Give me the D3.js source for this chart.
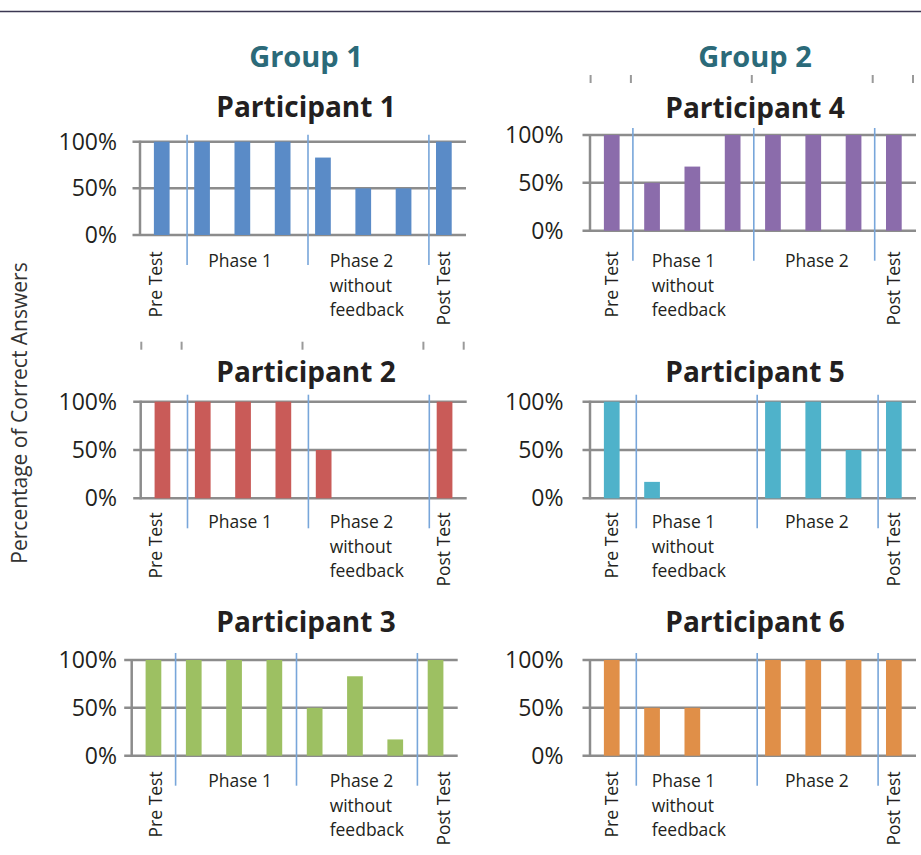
<!DOCTYPE html>
<html>
<head>
<meta charset="utf-8">
<script src="https://cdn.jsdelivr.net/npm/d3@7"></script>
<style>
  html, body { margin: 0; padding: 0; background: #fff; }
  svg { display: block; }
  text { font-family: "Open Sans", "Noto Sans", sans-serif; }
</style>
</head>
<body>
<svg id="chart" width="921" height="855"></svg>
<script>
// ---------------- DATA ----------------
const groupTitles = ["Group 1", "Group 2"];
const participants = ["Participant 1", "Participant 2", "Participant 3", "Participant 4", "Participant 5", "Participant 6"];
const participantGroup = [0, 0, 0, 1, 1, 1];
// session index -> phase index (Pre Test, phase A, phase B, Post Test)
const sessionPhase = [0, 1, 1, 1, 2, 2, 2, 3];
const phaseLabelsGroup1 = ["Pre Test", "Phase 1", "Phase 2\nwithout\nfeedback", "Post Test"];
const phaseLabelsGroup2 = ["Pre Test", "Phase 1\nwithout\nfeedback", "Phase 2", "Post Test"];
const p1Values = [1, 1, 1, 1, 0.83, 0.5, 0.5, 1];
const p2Values = [1, 1, 1, 1, 0.5, 0, 0, 1];
const p3Values = [1, 1, 1, 1, 0.5, 0.83, 0.17, 1];
const p4Values = [1, 0.5, 0.67, 1, 1, 1, 1, 1];
const p5Values = [1, 0.17, 0, 0, 1, 1, 0.5, 1];
const p6Values = [1, 0.5, 0.5, 0, 1, 1, 1, 1];
const yTickValues = [0, 0.5, 1];
const yAxisTitle = "Percentage of Correct Answers";
const barColors = ["#5a8bc7", "#c95b58", "#9dc062", "#8b6cab", "#4fb2ca", "#e08f48"];

const seriesValues = [p1Values, p2Values, p3Values, p4Values, p5Values, p6Values];
const phaseLabels = [phaseLabelsGroup1, phaseLabelsGroup2];

// ---------------- LAYOUT ----------------
const W = 921, H = 855;
const bandW = 322.4, gridW = 326;
const columns = [
  { titleX: 306, refX0: 141.8, tickLabelRight: 117, preDx: -6, multiDx: 6.5, singleDx: -2.5 },
  { titleX: 755, refX0: 591.2, tickLabelRight: 563.5, preDx: 0, multiDx: 0, singleDx: 4 }
];
const rowLabelBase = [267.3, 528.3, 787.3];
const panels = [
  { axisX: 140,   yTop: 141.7, yBot: 235,   sepDx: 5.2, titleY: 116.5, row: 0, topTicks: false },
  { axisX: 140.7, yTop: 401.7, yBot: 498.3, sepDx: 4.9, titleY: 381.7, row: 1, topTicks: true },
  { axisX: 131.7, yTop: 660,   yBot: 755.7, sepDx: 2,   titleY: 631.7, row: 2, topTicks: false },
  { axisX: 590,   yTop: 135,   yBot: 230.7, sepDx: 1,   titleY: 118.3, row: 0, topTicks: true },
  { axisX: 590,   yTop: 401.7, yBot: 498.3, sepDx: 4.4, titleY: 381.7, row: 1, topTicks: false },
  { axisX: 590,   yTop: 660,   yBot: 755.7, sepDx: 4.4, titleY: 631.7, row: 2, topTicks: false }
];

const svg = d3.select("#chart");

// top rule
svg.append("line")
  .attr("x1", 0).attr("x2", W).attr("y1", 11.5).attr("y2", 11.5)
  .attr("stroke", "#3b3752").attr("stroke-width", 1.5);

// group titles
groupTitles.forEach((t, i) => {
  svg.append("text")
    .attr("x", columns[i].titleX).attr("y", 66.5)
    .attr("text-anchor", "middle")
    .attr("font-size", 29).attr("font-weight", 700)
    .attr("fill", "#2b6a79")
    .text(t);
});

// y axis title
svg.append("text")
  .attr("transform", "translate(27,413) rotate(-90)")
  .attr("text-anchor", "middle")
  .attr("font-size", 21)
  .attr("fill", "#333")
  .text(yAxisTitle);

// phase boundaries (first session index of each phase) + end
const phaseStarts = d3.range(4).map(p => sessionPhase.indexOf(p));
const phaseEnds = d3.range(4).map(p => sessionPhase.lastIndexOf(p));

panels.forEach((pl, pi) => {
  const g = svg.append("g");
  const col = columns[participantGroup[pi]];
  const values = seriesValues[pi];
  const idx = d3.range(values.length);

  const x = d3.scaleBand().domain(idx)
    .range([pl.axisX + 1.6, pl.axisX + 1.6 + bandW])
    .paddingInner(0.61).paddingOuter(0.305);
  const xRef = d3.scaleBand().domain(idx)
    .range([col.refX0, col.refX0 + bandW])
    .paddingInner(0.61).paddingOuter(0.305);
  const y = d3.scaleLinear().domain([0, 1]).range([pl.yBot, pl.yTop]);
  const step = x.step();
  const boundary = k => x.range()[0] + step * k;

  // title
  g.append("text")
    .attr("x", col.titleX).attr("y", pl.titleY)
    .attr("text-anchor", "middle")
    .attr("font-size", 28).attr("font-weight", 700)
    .attr("fill", "#231f20")
    .text(participants[pi]);

  // stray category tick marks above some panels
  if (pl.topTicks) {
    const ks = [0, phaseStarts[1], phaseStarts[2], phaseStarts[3], values.length];
    g.selectAll("line.tt").data(ks).join("line")
      .attr("x1", k => boundary(k) - 1).attr("x2", k => boundary(k) - 1)
      .attr("y1", y(1) - 60).attr("y2", y(1) - 52)
      .attr("stroke", "#9a9a9a").attr("stroke-width", 2);
  }

  // gridlines
  g.selectAll("line.grid").data(yTickValues).join("line")
    .attr("x1", pl.axisX - 7.5).attr("x2", pl.axisX + gridW)
    .attr("y1", d => y(d)).attr("y2", d => y(d))
    .attr("stroke", "#8c8c8c").attr("stroke-width", 2.5);
  // vertical axis line
  g.append("line")
    .attr("x1", pl.axisX).attr("x2", pl.axisX)
    .attr("y1", y(0) + 1).attr("y2", y(1) - 1)
    .attr("stroke", "#8c8c8c").attr("stroke-width", 2.5);

  // tick labels through d3 axis
  const ax = g.append("g")
    .attr("transform", `translate(${col.tickLabelRight},0)`)
    .call(d3.axisLeft(y).tickValues(yTickValues).tickFormat(d3.format(".0%")).tickSize(0).tickPadding(0));
  ax.select(".domain").remove();
  ax.selectAll("text")
    .attr("font-family", "'Open Sans', sans-serif")
    .attr("font-size", 23).attr("fill", "#231f20");

  // bars
  g.selectAll("rect.bar").data(values).join("rect")
    .attr("x", (d, i) => x(i))
    .attr("width", x.bandwidth())
    .attr("y", d => y(d))
    .attr("height", d => y(0) - y(d))
    .attr("fill", barColors[pi]);

  // phase separators
  const seps = [phaseStarts[1], phaseStarts[2], phaseStarts[3]];
  g.selectAll("line.sep").data(seps).join("line")
    .attr("x1", k => boundary(k) + pl.sepDx).attr("x2", k => boundary(k) + pl.sepDx)
    .attr("y1", y(1) - 7).attr("y2", y(0) + 30)
    .attr("stroke", "#78a6da").attr("stroke-width", 1.6);

  // category labels
  const base = rowLabelBase[pl.row];
  const labels = phaseLabels[participantGroup[pi]];
  labels.forEach((lab, p) => {
    const s0 = phaseStarts[p], s1 = phaseEnds[p];
    if (p === 0 || p === 3) {
      const cx = xRef(s0) + xRef.bandwidth() / 2 + (p === 0 ? col.preDx : 0);
      g.append("text")
        .attr("transform", `translate(${cx},${base - 16}) rotate(-90)`)
        .attr("text-anchor", "end")
        .attr("dy", "0.36em")
        .attr("font-size", 17.5).attr("fill", "#231f20")
        .text(lab);
    } else {
      const linesT = lab.split("\n");
      if (linesT.length === 1) {
        const cx = (xRef(s0) + xRef(s1) + xRef.bandwidth()) / 2 + col.singleDx;
        g.append("text")
          .attr("x", cx).attr("y", base)
          .attr("text-anchor", "middle")
          .attr("font-size", 17.5).attr("fill", "#231f20")
          .text(lab);
      } else {
        const lx = xRef(s0) + xRef.bandwidth() / 2 + col.multiDx;
        const t = g.append("text")
          .attr("x", lx).attr("y", base)
          .attr("font-size", 17.5).attr("fill", "#231f20");
        linesT.forEach((ln, li) => {
          t.append("tspan").attr("x", lx).attr("dy", li === 0 ? 0 : 24.4).text(ln);
        });
      }
    }
  });
});
</script>
</body>
</html>
